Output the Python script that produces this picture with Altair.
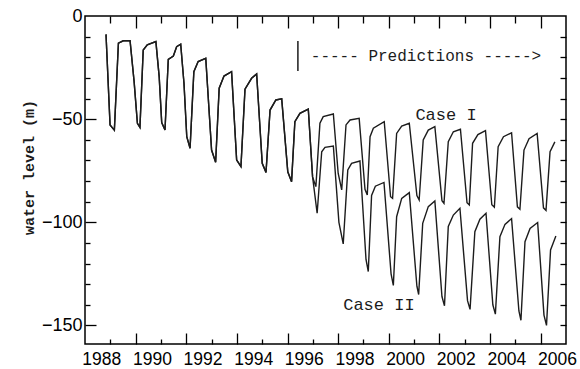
import altair as alt
import pandas as pd

# ---- data ----
common_year = [1987.83, 1987.99, 1988.16, 1988.32, 1988.51, 1988.78, 1988.94, 1989.07, 1989.17, 1989.30,
               1989.46, 1989.80, 1989.93, 1990.03, 1990.16, 1990.29, 1990.49, 1990.62, 1990.78, 1990.91,
               1991.02, 1991.15, 1991.30, 1991.47, 1991.77, 1992.00, 1992.16, 1992.30, 1992.49, 1992.79,
               1992.99, 1993.16, 1993.32, 1993.58, 1993.78, 1994.00, 1994.15, 1994.31, 1994.54, 1994.77,
               1995.01, 1995.16, 1995.29, 1995.49, 1995.82, 1995.99]
common_level = [-8.9, -52.8, -55.3, -13.2, -12.0, -12.0, -31.8, -52.0, -54.0, -16.5,
                -14.0, -12.4, -29.4, -51.7, -55.3, -21.0, -19.4, -14.9, -13.7, -32.6,
                -58.5, -64.1, -27.0, -22.1, -20.5, -65.0, -70.9, -35.0, -29.1, -27.0,
                -69.8, -73.0, -35.5, -30.2, -28.1, -71.4, -75.8, -45.6, -40.7, -40.2,
                -75.5, -80.3, -51.2, -47.2, -45.1, -78.0]

case1_year = [1996.12, 1996.28, 1996.41, 1996.81, 1997.00, 1997.14, 1997.31, 1997.47, 1997.83, 1998.06,
              1998.15, 1998.26, 1998.39, 1998.82, 1999.07, 1999.15, 1999.31, 1999.51, 1999.81, 2000.11,
              2000.20, 2000.36, 2000.56, 2000.82, 2001.10, 2001.18, 2001.35, 2001.55, 2001.83, 2002.09,
              2002.18, 2002.31, 2002.52, 2002.82, 2003.07, 2003.17, 2003.32, 2003.53, 2003.85, 2004.08,
              2004.18, 2004.34, 2004.54, 2004.86, 2005.11, 2005.21, 2005.37, 2005.56]
case1_level = [-82.7, -52.0, -48.8, -47.5, -76.2, -84.3, -52.8, -50.4, -49.6, -84.0,
               -86.8, -58.5, -54.4, -51.2, -87.6, -88.4, -56.9, -53.4, -52.0, -87.0,
               -89.2, -60.1, -55.3, -53.6, -89.5, -90.8, -60.9, -56.1, -54.9, -90.5,
               -91.6, -61.7, -57.5, -55.6, -91.5, -92.7, -63.3, -58.5, -56.6, -92.5,
               -93.7, -65.0, -59.5, -56.9, -93.0, -94.2, -65.8, -61.0]

case2_year = [1996.17, 1996.35, 1996.48, 1996.81, 1997.03, 1997.20, 1997.38, 1997.53, 1997.86, 1998.10,
              1998.19, 1998.32, 1998.47, 1998.81, 1999.09, 1999.18, 1999.31, 1999.51, 1999.81, 2000.11,
              2000.18, 2000.34, 2000.56, 2000.82, 2001.10, 2001.20, 2001.35, 2001.55, 2001.81, 2002.11,
              2002.21, 2002.40, 2002.60, 2002.84, 2003.11, 2003.21, 2003.39, 2003.59, 2003.85, 2004.14,
              2004.22, 2004.38, 2004.58, 2004.88, 2005.13, 2005.23, 2005.39, 2005.60]
case2_level = [-95.6, -65.8, -63.7, -63.0, -100.0, -110.5, -74.6, -71.4, -70.3, -118.0,
               -123.9, -87.0, -82.5, -80.7, -125.0, -130.6, -97.3, -88.4, -85.6, -131.0,
               -135.0, -100.5, -92.4, -89.7, -136.0, -140.5, -102.0, -96.5, -93.2, -138.0,
               -142.2, -104.6, -98.5, -95.6, -140.0, -144.5, -107.0, -101.0, -98.2, -143.0,
               -147.5, -109.4, -103.0, -100.1, -145.0, -150.0, -113.4, -106.6]

label_years = [1988, 1990, 1992, 1994, 1996, 1998, 2000, 2002, 2004, 2006]
odd_years = [1989, 1991, 1993, 1995, 1997, 1999, 2001, 2003, 2005]
even_years = [1988, 1990, 1992, 1994, 1996, 1998, 2000, 2002, 2004]
level_labels = [0, -50, -100, -150]
level_major = [-50, -100, -150]
level_minor = [-10, -20, -30, -40, -60, -70, -80, -90, -110, -120, -130, -140]
level_all = [-10, -20, -30, -40, -50, -60, -70, -80, -90, -100, -110, -120, -130, -140, -150]

pred_text = ["-----  Predictions  ----->"]
pred_year = [2000.47]
pred_level = [-19.6]
case_text = ["Case I", "Case II"]
case_year = [2001.26, 1998.61]
case_level = [-48.1, -140.1]
bar_year = [1995.41]
bar_top = [-12.1]
bar_bottom = [-26.7]

# ---- tables ----
rows = []
for name, ys, ls in [("Case I", common_year + case1_year, common_level + case1_level),
                     ("Case II", common_year + case2_year, common_level + case2_level)]:
    for yv, lv in zip(ys, ls):
        rows.append({"series": name, "year": yv, "level": lv})
df = pd.DataFrame(rows)

pred_df = pd.DataFrame({"text": pred_text, "year": pred_year, "level": pred_level})
case_df = pd.DataFrame({"text": case_text, "year": case_year, "level": case_level})
bar_df = pd.DataFrame({"year": bar_year, "level": bar_top, "level2": bar_bottom})
anchor = pd.DataFrame({"year": [1990.0], "level": [-50.0]})

xscale = alt.Scale(domain=[1987, 2006], nice=False, zero=False)
yscale = alt.Scale(domain=[-159, 0], nice=False, zero=False)

lines = alt.Chart(df).mark_line(color="#1c1c1c", strokeWidth=1.4).encode(
    x=alt.X("year:Q", scale=xscale,
            axis=alt.Axis(orient="bottom", values=label_years, format="d", title=None,
                          ticks=False, tickSize=0, domain=False, grid=False,
                          translate=-8.5, labelPadding=29.5, labelBaseline="alphabetic",
                          labelFlush=False, labelOverlap=False,
                          labelFont="Liberation Sans", labelFontSize=17.5, labelColor="black")),
    y=alt.Y("level:Q", scale=yscale,
            axis=alt.Axis(orient="left", values=level_labels, format="d",
                          title="water level (m)", ticks=False, tickSize=0, domain=False, grid=False,
                          labelPadding=3, labelFont="Liberation Sans", labelFontSize=18,
                          labelColor="black", titleFont="Liberation Mono", titleFontSize=15,
                          titleFontWeight="bold", titleColor="#1c1c1c", titleAngle=270,
                          titleX=-57, titleY=151, titleAlign="center", titleBaseline="middle")),
    detail="series:N",
)


def tick_axis(orient, values, size):
    return alt.Axis(orient=orient, values=values, offset=-size, tickSize=size, labels=False,
                    domain=False, grid=False, title=None, ticks=True, tickColor="black",
                    tickWidth=1.3)


def tick_layer(x_axis, y_axis):
    return alt.Chart(anchor).mark_point(opacity=0).encode(
        x=alt.X("year:Q", scale=xscale, axis=x_axis),
        y=alt.Y("level:Q", scale=yscale, axis=y_axis),
    )


t1 = tick_layer(tick_axis("bottom", odd_years, 11), tick_axis("left", level_major, 11))
t2 = tick_layer(tick_axis("bottom", even_years, 5), tick_axis("left", level_minor, 5))
t3 = tick_layer(tick_axis("top", odd_years, 12), tick_axis("right", level_all, 6))
t4 = tick_layer(tick_axis("top", even_years, 7), None)

bar = alt.Chart(bar_df).mark_rule(color="#1c1c1c", strokeWidth=1.5).encode(
    x=alt.X("year:Q", scale=xscale, axis=None),
    y=alt.Y("level:Q", scale=yscale, axis=None),
    y2="level2:Q",
)

pred = alt.Chart(pred_df).mark_text(font="Liberation Mono", fontSize=16, color="#1c1c1c",
                                    align="center", baseline="middle").encode(
    x=alt.X("year:Q", scale=xscale, axis=None),
    y=alt.Y("level:Q", scale=yscale, axis=None),
    text="text:N",
)

cases = alt.Chart(case_df).mark_text(font="Liberation Mono", fontSize=17, color="#1c1c1c",
                                     align="center", baseline="middle").encode(
    x=alt.X("year:Q", scale=xscale, axis=None),
    y=alt.Y("level:Q", scale=yscale, axis=None),
    text="text:N",
)

chart = alt.layer(lines, t1, t2, t3, t4, bar, pred, cases).resolve_axis(
    x="independent", y="independent"
).properties(
    width=481, height=328,
    autosize=alt.AutoSizeParams(type="none"),
    padding={"left": 85, "top": 16, "right": 14, "bottom": 25},
    background="white",
).configure_view(stroke="black", strokeWidth=1.5).configure_axis(grid=False)

chart.save("out.html", embed_options={"renderer": "svg", "actions": False})
